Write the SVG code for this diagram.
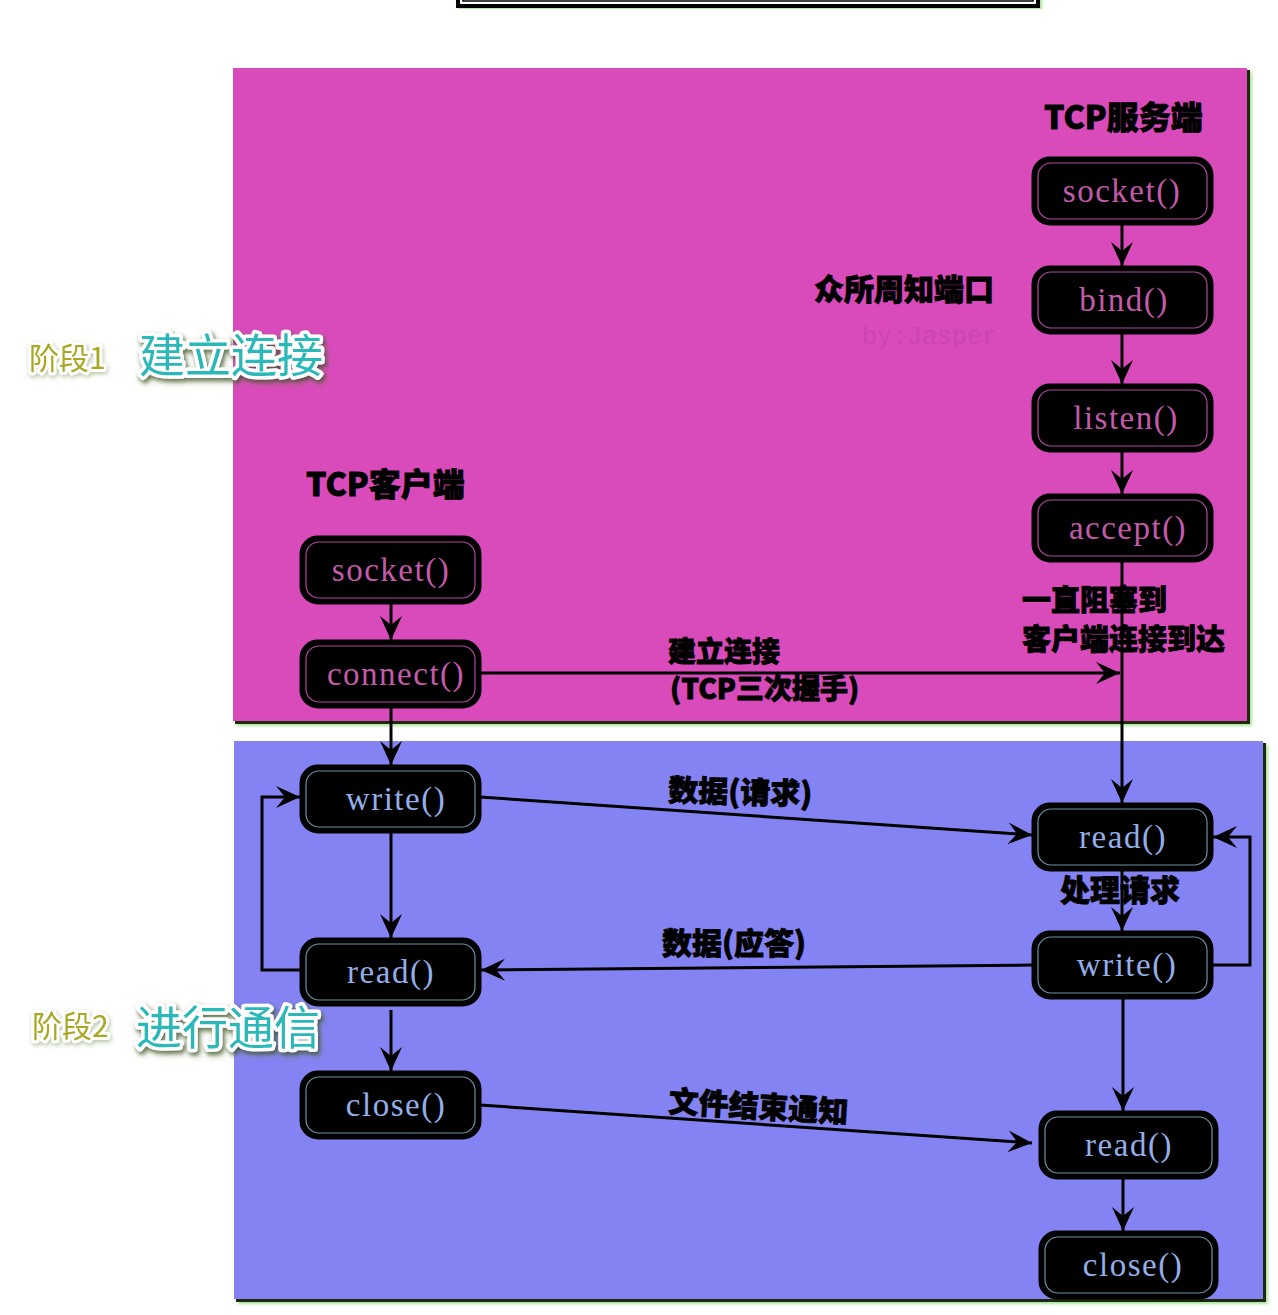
<svg xmlns="http://www.w3.org/2000/svg" width="1278" height="1315" viewBox="0 0 1278 1315">
  <defs>
    <style>
      .panel-shadow { fill: #1a2a10; }
      .node rect.outer { fill: #000; stroke: #000; stroke-width: 3; }
      .pink rect.inner { fill: none; stroke: #b0489c; stroke-width: 1.2; }
      .blue rect.inner { fill: none; stroke: #6c8fa0; stroke-width: 1.2; }
      .node text { font-family: "Liberation Serif", "DejaVu Serif", serif; font-size: 33px; letter-spacing: 1.5px; text-anchor: middle; dominant-baseline: central; }
      .pink text { fill: #c35aa9; }
      .blue text { fill: #93aee8; }
      .conn { fill: none; stroke: #000; stroke-width: 3; }
      .lbl { font-family: "Noto Sans CJK SC", "Liberation Sans", sans-serif; font-weight: 900; fill: #000; stroke: #000; stroke-width: 0.8; }
      .stage { font-family: "Noto Sans CJK SC", "Liberation Sans", sans-serif; font-size: 30px; fill: #a8a824; stroke: #ffffff; stroke-width: 6; paint-order: stroke; stroke-linejoin: round; }
      .stagebig { font-family: "Noto Sans CJK SC", "Liberation Sans", sans-serif; font-size: 46px; fill: #2cb8b8; stroke: #ffffff; stroke-width: 7; paint-order: stroke; stroke-linejoin: round; }
    </style>
    <marker id="arr" viewBox="-25 -12 27 24" refX="0" refY="0" markerWidth="27" markerHeight="24" markerUnits="userSpaceOnUse" orient="auto">
      <path d="M0,0 L-24,-11 L-15,0 L-24,11 Z" fill="#000"/>
    </marker>
    <filter id="glow" x="-5%" y="-5%" width="110%" height="110%">
      <feDropShadow dx="2" dy="2" stdDeviation="1.5" flood-color="#9fe08a" flood-opacity="0.9"/>
    </filter>
    <filter id="tshadow" x="-10%" y="-20%" width="120%" height="140%">
      <feDropShadow dx="2" dy="3" stdDeviation="2" flood-color="#000" flood-opacity="0.55"/>
    </filter>
    <filter id="sglow" x="-10%" y="-20%" width="120%" height="140%">
      <feDropShadow dx="1" dy="2" stdDeviation="2" flood-color="#6a8a40" flood-opacity="0.5"/>
    </filter>
  </defs>

  <rect width="1278" height="1315" fill="#ffffff"/>

  <!-- top partial box -->
  <g id="top-box" filter="url(#glow)">
    <rect x="458" y="-40" width="580" height="46" fill="#ffffff" stroke="#000" stroke-width="4"/>
    <rect x="463" y="-40" width="570" height="41" fill="none" stroke="#000" stroke-width="1.5"/>
  </g>

  <!-- panels -->
  <g id="panel-stage1" filter="url(#glow)">
    <rect x="235" y="70" width="1015" height="654" class="panel-shadow"/>
    <rect x="233" y="68" width="1014" height="653" fill="#d94cbb"/>
  </g>
  <g id="panel-stage2" filter="url(#glow)">
    <rect x="236" y="743" width="1030" height="559" class="panel-shadow"/>
    <rect x="234" y="741" width="1029" height="558" fill="#8483f4"/>
  </g>

  <!-- stage labels -->
  <g id="stage1-label" filter="url(#sglow)">
    <text x="29" y="369" class="stage">阶段1</text>
    <text x="139" y="372" class="stagebig" filter="url(#tshadow)">建立连接</text>
  </g>
  <g id="stage2-label" filter="url(#sglow)">
    <text x="32" y="1037" class="stage">阶段2</text>
    <text x="136" y="1044" class="stagebig" filter="url(#tshadow)">进行通信</text>
  </g>

  <!-- text labels -->
  <g id="labels">
    <text x="1044" y="129" class="lbl" font-size="32">TCP服务端</text>
    <text x="306" y="496" class="lbl" font-size="32">TCP客户端</text>
    <text x="814" y="300" class="lbl" font-size="30">众所周知端口</text>
    <text x="862" y="344" font-family="Liberation Mono, DejaVu Sans Mono, monospace" font-size="25" fill="#c846ae">by:Jasper</text>
    <text x="668" y="662" class="lbl" font-size="28">建立连接</text>
    <text x="670" y="699" class="lbl" font-size="28">(TCP三次握手)</text>
    <text x="1022" y="611" class="lbl" font-size="29">一直阻塞到</text>
    <text x="1022" y="650" class="lbl" font-size="29">客户端连接到达</text>
    <text x="668" y="801" class="lbl" font-size="30" transform="rotate(1.5 668 801)">数据(请求)</text>
    <text x="1060" y="901" class="lbl" font-size="30">处理请求</text>
    <text x="662" y="954" class="lbl" font-size="30">数据(应答)</text>
    <text x="668" y="1112" class="lbl" font-size="30" transform="rotate(3.5 668 1112)">文件结束通知</text>
  </g>

  <!-- connectors -->
  <g id="connectors">
    <line x1="1122" y1="224" x2="1122" y2="266" class="conn" marker-end="url(#arr)"/>
    <line x1="1122" y1="333" x2="1122" y2="384" class="conn" marker-end="url(#arr)"/>
    <line x1="1122" y1="451" x2="1122" y2="494" class="conn" marker-end="url(#arr)"/>
    <line x1="1122" y1="561" x2="1122" y2="803" class="conn" marker-end="url(#arr)"/>
    <line x1="480" y1="673" x2="1120" y2="673" class="conn" marker-end="url(#arr)"/>
    <line x1="391" y1="603" x2="391" y2="640" class="conn" marker-end="url(#arr)"/>
    <line x1="391" y1="707" x2="391" y2="765" class="conn" marker-end="url(#arr)"/>
    <line x1="391" y1="832" x2="391" y2="938" class="conn" marker-end="url(#arr)"/>
    <line x1="391" y1="1010" x2="391" y2="1071" class="conn" marker-end="url(#arr)"/>
    <line x1="480" y1="797" x2="1032" y2="835" class="conn" marker-end="url(#arr)"/>
    <line x1="1033" y1="965" x2="481" y2="970" class="conn" marker-end="url(#arr)"/>
    <line x1="480" y1="1105" x2="1032" y2="1143" class="conn" marker-end="url(#arr)"/>
    <polyline points="301,970 262,970 262,797 300,797" class="conn" marker-end="url(#arr)"/>
    <polyline points="1212,965 1250,965 1250,837 1213,837" class="conn" marker-end="url(#arr)"/>
    <line x1="1122" y1="870" x2="1122" y2="931" class="conn" marker-end="url(#arr)"/>
    <line x1="1123" y1="998" x2="1123" y2="1111" class="conn" marker-end="url(#arr)"/>
    <line x1="1123" y1="1178" x2="1123" y2="1231" class="conn" marker-end="url(#arr)"/>
  </g>

  <!-- server nodes -->
  <g id="srv-socket" class="node pink">
    <rect class="outer" x="1033" y="158" width="179" height="66" rx="17"/>
    <rect class="inner" x="1038" y="163" width="169" height="56" rx="13"/>
    <text x="1122" y="191">socket()</text>
  </g>
  <g id="srv-bind" class="node pink">
    <rect class="outer" x="1033" y="267" width="179" height="66" rx="17"/>
    <rect class="inner" x="1038" y="272" width="169" height="56" rx="13"/>
    <text x="1124" y="300">bind()</text>
  </g>
  <g id="srv-listen" class="node pink">
    <rect class="outer" x="1033" y="385" width="179" height="66" rx="17"/>
    <rect class="inner" x="1038" y="390" width="169" height="56" rx="13"/>
    <text x="1126" y="418">listen()</text>
  </g>
  <g id="srv-accept" class="node pink">
    <rect class="outer" x="1033" y="495" width="179" height="66" rx="17"/>
    <rect class="inner" x="1038" y="500" width="169" height="56" rx="13"/>
    <text x="1128" y="528">accept()</text>
  </g>
  <g id="srv-read1" class="node blue">
    <rect class="outer" x="1033" y="804" width="179" height="66" rx="17"/>
    <rect class="inner" x="1038" y="809" width="169" height="56" rx="13"/>
    <text x="1123" y="837">read()</text>
  </g>
  <g id="srv-write" class="node blue">
    <rect class="outer" x="1033" y="932" width="179" height="66" rx="17"/>
    <rect class="inner" x="1038" y="937" width="169" height="56" rx="13"/>
    <text x="1127" y="965">write()</text>
  </g>
  <g id="srv-read2" class="node blue">
    <rect class="outer" x="1040" y="1112" width="177" height="66" rx="17"/>
    <rect class="inner" x="1045" y="1117" width="167" height="56" rx="13"/>
    <text x="1129" y="1145">read()</text>
  </g>
  <g id="srv-close" class="node blue">
    <rect class="outer" x="1040" y="1232" width="177" height="66" rx="17"/>
    <rect class="inner" x="1045" y="1237" width="167" height="56" rx="13"/>
    <text x="1133" y="1265">close()</text>
  </g>

  <!-- client nodes -->
  <g id="cli-socket" class="node pink">
    <rect class="outer" x="301" y="537" width="179" height="66" rx="17"/>
    <rect class="inner" x="306" y="542" width="169" height="56" rx="13"/>
    <text x="391" y="570">socket()</text>
  </g>
  <g id="cli-connect" class="node pink">
    <rect class="outer" x="301" y="641" width="179" height="66" rx="17"/>
    <rect class="inner" x="306" y="646" width="169" height="56" rx="13"/>
    <text x="396" y="674">connect()</text>
  </g>
  <g id="cli-write" class="node blue">
    <rect class="outer" x="301" y="766" width="179" height="66" rx="17"/>
    <rect class="inner" x="306" y="771" width="169" height="56" rx="13"/>
    <text x="396" y="799">write()</text>
  </g>
  <g id="cli-read" class="node blue">
    <rect class="outer" x="301" y="939" width="179" height="66" rx="17"/>
    <rect class="inner" x="306" y="944" width="169" height="56" rx="13"/>
    <text x="391" y="972">read()</text>
  </g>
  <g id="cli-close" class="node blue">
    <rect class="outer" x="301" y="1072" width="179" height="66" rx="17"/>
    <rect class="inner" x="306" y="1077" width="169" height="56" rx="13"/>
    <text x="396" y="1105">close()</text>
  </g>
</svg>
